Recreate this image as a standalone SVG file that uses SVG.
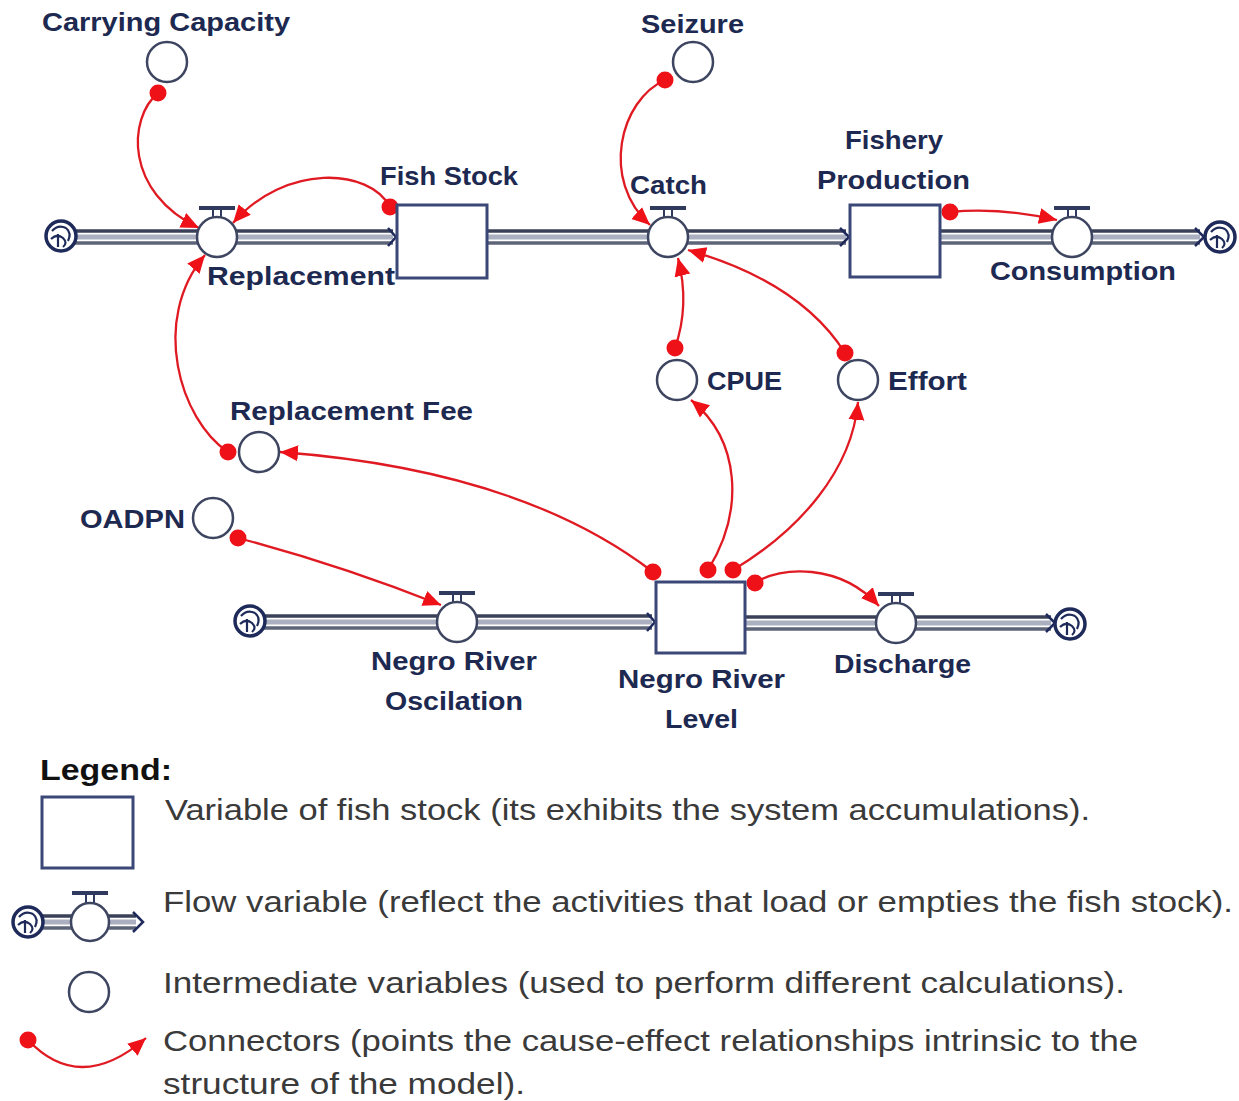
<svg xmlns="http://www.w3.org/2000/svg" width="1239" height="1101" viewBox="0 0 1239 1101">
<style>
.lbl{font-family:"Liberation Sans",Arial,sans-serif;font-weight:bold;font-size:26px;fill:#1d2950}
.leg{font-family:"Liberation Sans",Arial,sans-serif;font-size:29px;fill:#3a3a3a}
.legh{font-family:"Liberation Sans",Arial,sans-serif;font-weight:bold;font-size:29px;fill:#111}
.aux{fill:#fff;stroke:#3d4560;stroke-width:2.5}
.stock{fill:#fff;stroke:#3b4776;stroke-width:3}
.pipe{stroke:#3a4058;stroke-width:3.5;fill:none}
.pipe2{stroke:#5d6478;stroke-width:3.5;fill:none}
.pipeband{stroke:#aab0c0;stroke-width:5;fill:none}
.chev{stroke:#1f2a5c;stroke-width:2.5;fill:none}
.cloud{fill:#fff;stroke:#1e2a5a;stroke-width:3.5}
.swirl{fill:none;stroke:#1e2a5a;stroke-width:2.2}
.bar{fill:#2f3a5e}
.con{fill:none;stroke:#e01a22;stroke-width:2.3}
</style>
<defs>
<marker id="dot" markerUnits="userSpaceOnUse" markerWidth="20" markerHeight="20" refX="10" refY="10"><circle cx="10" cy="10" r="8.5" fill="#ee1118"/></marker>
<marker id="arr" markerUnits="userSpaceOnUse" markerWidth="20" markerHeight="18" refX="18" refY="9" orient="auto"><path d="M0,1 L18,9 L0,17 z" fill="#ee1118"/></marker>
<g id="cloudSym">
<circle class="cloud" cx="0" cy="0" r="15"/>
<path class="swirl" d="M-9,-5 Q-3,-12 5,-8 M-10,3 Q-4,-3 2,2 Q7,7 2,11 M5,-8 Q11,-3 7,5 M-3,-2 L-3,11"/>
</g>
<g id="valveTop">
<rect class="bar" x="-18" y="-31" width="36" height="4"/>
<line x1="-4" y1="-27" x2="-4" y2="-19" stroke="#2f3a5e" stroke-width="2"/>
<line x1="4" y1="-27" x2="4" y2="-19" stroke="#2f3a5e" stroke-width="2"/>
</g>
</defs>
<rect width="1239" height="1101" fill="#fff"/>

<g id="pipes">
<line class="pipeband" x1="74" y1="237" x2="393" y2="237"/>
<line class="pipe" x1="74" y1="231" x2="393" y2="231"/>
<line class="pipe2" x1="74" y1="243" x2="393" y2="243"/>
<path class="chev" d="M388,228 L396,237 L388,246"/>
<line class="pipeband" x1="487" y1="237" x2="846" y2="237"/>
<line class="pipe" x1="487" y1="231" x2="846" y2="231"/>
<line class="pipe2" x1="487" y1="243" x2="846" y2="243"/>
<path class="chev" d="M840,228 L849,237 L840,246"/>
<line class="pipeband" x1="940" y1="237" x2="1200" y2="237"/>
<line class="pipe" x1="940" y1="231" x2="1200" y2="231"/>
<line class="pipe2" x1="940" y1="243" x2="1200" y2="243"/>
<path class="chev" d="M1195,228 L1204,237 L1195,246"/>
<line class="pipeband" x1="264" y1="622" x2="652" y2="622"/>
<line class="pipe" x1="264" y1="616" x2="652" y2="616"/>
<line class="pipe2" x1="264" y1="628" x2="652" y2="628"/>
<path class="chev" d="M647,613 L655,622 L647,631"/>
<line class="pipeband" x1="745" y1="623" x2="1051" y2="623"/>
<line class="pipe" x1="745" y1="617" x2="1051" y2="617"/>
<line class="pipe2" x1="745" y1="629" x2="1051" y2="629"/>
<path class="chev" d="M1046,614 L1055,623 L1046,632"/>
<use href="#cloudSym" x="61" y="236"/>
<use href="#cloudSym" x="1220" y="237"/>
<use href="#cloudSym" x="250" y="621"/>
<use href="#cloudSym" x="1070" y="624"/>
</g>

<g id="connectors">
<path class="con" marker-start="url(#dot)" marker-end="url(#arr)" d="M158,93 C128,118 124,192 199,228"/>
<path class="con" marker-start="url(#dot)" marker-end="url(#arr)" d="M390,207 C370,168 285,163 233,223"/>
<path class="con" marker-start="url(#dot)" marker-end="url(#arr)" d="M228,452 C180,420 150,320 205,255"/>
<path class="con" marker-start="url(#dot)" marker-end="url(#arr)" d="M653,572 Q520,470 280,452"/>
<path class="con" marker-start="url(#dot)" marker-end="url(#arr)" d="M238,538 Q340,565 441,605"/>
<path class="con" marker-start="url(#dot)" marker-end="url(#arr)" d="M665,80 C620,100 600,180 650,225"/>
<path class="con" marker-start="url(#dot)" marker-end="url(#arr)" d="M675,348 Q690,305 678,258"/>
<path class="con" marker-start="url(#dot)" marker-end="url(#arr)" d="M845,353 Q800,282 688,250"/>
<path class="con" marker-start="url(#dot)" marker-end="url(#arr)" d="M708,570 C745,510 740,440 691,400"/>
<path class="con" marker-start="url(#dot)" marker-end="url(#arr)" d="M733,570 C800,530 852,470 858,402"/>
<path class="con" marker-start="url(#dot)" marker-end="url(#arr)" d="M755,583 C780,566 840,563 879,606"/>
<path class="con" marker-start="url(#dot)" marker-end="url(#arr)" d="M950,212 Q1000,207 1057,220"/>
</g>

<g id="carrying-capacity">
<circle class="aux" cx="167" cy="62" r="20"/>
<text class="lbl" x="42" y="31" textLength="248" lengthAdjust="spacingAndGlyphs">Carrying Capacity</text>
</g>
<g id="seizure">
<circle class="aux" cx="693" cy="62" r="20"/>
<text class="lbl" x="641" y="33" textLength="103" lengthAdjust="spacingAndGlyphs">Seizure</text>
</g>
<g id="replacement">
<use href="#valveTop" x="217" y="237"/>
<circle class="aux" cx="217" cy="237" r="20"/>
<text class="lbl" x="207" y="285" textLength="188" lengthAdjust="spacingAndGlyphs">Replacement</text>
</g>
<g id="fish-stock">
<rect class="stock" x="397" y="205" width="90" height="73"/>
<text class="lbl" x="380" y="185" textLength="138" lengthAdjust="spacingAndGlyphs">Fish Stock</text>
</g>
<g id="catch">
<use href="#valveTop" x="668" y="237"/>
<circle class="aux" cx="668" cy="237" r="20"/>
<text class="lbl" x="630" y="194" textLength="77" lengthAdjust="spacingAndGlyphs">Catch</text>
</g>
<g id="fishery-production">
<rect class="stock" x="850" y="205" width="90" height="72"/>
<text class="lbl" x="845" y="149" textLength="98" lengthAdjust="spacingAndGlyphs">Fishery</text>
<text class="lbl" x="817" y="189" textLength="153" lengthAdjust="spacingAndGlyphs">Production</text>
</g>
<g id="consumption">
<use href="#valveTop" x="1072" y="237"/>
<circle class="aux" cx="1072" cy="237" r="20"/>
<text class="lbl" x="990" y="280" textLength="186" lengthAdjust="spacingAndGlyphs">Consumption</text>
</g>
<g id="cpue">
<circle class="aux" cx="677" cy="380" r="20"/>
<text class="lbl" x="707" y="390" textLength="75" lengthAdjust="spacingAndGlyphs">CPUE</text>
</g>
<g id="effort">
<circle class="aux" cx="858" cy="380" r="20"/>
<text class="lbl" x="888" y="390" textLength="79" lengthAdjust="spacingAndGlyphs">Effort</text>
</g>
<g id="replacement-fee">
<circle class="aux" cx="259" cy="452" r="20"/>
<text class="lbl" x="230" y="420" textLength="243" lengthAdjust="spacingAndGlyphs">Replacement Fee</text>
</g>
<g id="oadpn">
<circle class="aux" cx="213" cy="518" r="20"/>
<text class="lbl" x="80" y="528" textLength="105" lengthAdjust="spacingAndGlyphs">OADPN</text>
</g>
<g id="negro-river-oscilation">
<use href="#valveTop" x="457" y="622"/>
<circle class="aux" cx="457" cy="622" r="20"/>
<text class="lbl" x="371" y="670" textLength="166" lengthAdjust="spacingAndGlyphs">Negro River</text>
<text class="lbl" x="385" y="710" textLength="138" lengthAdjust="spacingAndGlyphs">Oscilation</text>
</g>
<g id="negro-river-level">
<rect class="stock" x="656" y="582" width="89" height="71"/>
<text class="lbl" x="618" y="688" textLength="167" lengthAdjust="spacingAndGlyphs">Negro River</text>
<text class="lbl" x="665" y="728" textLength="73" lengthAdjust="spacingAndGlyphs">Level</text>
</g>
<g id="discharge">
<use href="#valveTop" x="896" y="623"/>
<circle class="aux" cx="896" cy="623" r="20"/>
<text class="lbl" x="834" y="673" textLength="137" lengthAdjust="spacingAndGlyphs">Discharge</text>
</g>

<g id="legend">
<text class="legh" x="40" y="780" textLength="132" lengthAdjust="spacingAndGlyphs">Legend:</text>
<rect class="stock" x="42" y="797" width="91" height="71"/>
<text class="leg" x="165" y="820" textLength="925" lengthAdjust="spacingAndGlyphs">Variable of fish stock (its exhibits the system accumulations).</text>
<g id="legend-flow">
<line class="pipeband" x1="40" y1="922" x2="136" y2="922"/>
<line class="pipe" x1="40" y1="916" x2="136" y2="916"/>
<line class="pipe2" x1="40" y1="928" x2="136" y2="928"/>
<path class="chev" d="M133,912 L143,922 L133,932"/>
<use href="#cloudSym" x="28" y="922"/>
<use href="#valveTop" x="90" y="922"/>
<circle class="aux" cx="90" cy="922" r="19"/>
</g>
<text class="leg" x="163" y="912" textLength="1070" lengthAdjust="spacingAndGlyphs">Flow variable (reflect the activities that load or empties the fish stock).</text>
<circle class="aux" cx="89" cy="992" r="20"/>
<text class="leg" x="163" y="993" textLength="962" lengthAdjust="spacingAndGlyphs">Intermediate variables (used to perform different calculations).</text>
<path class="con" marker-start="url(#dot)" marker-end="url(#arr)" d="M28,1040 Q80,1095 146,1038"/>
<text class="leg" x="163" y="1051" textLength="975" lengthAdjust="spacingAndGlyphs">Connectors (points the cause-effect relationships intrinsic to the</text>
<text class="leg" x="163" y="1094" textLength="362" lengthAdjust="spacingAndGlyphs">structure of the model).</text>
</g>
</svg>
